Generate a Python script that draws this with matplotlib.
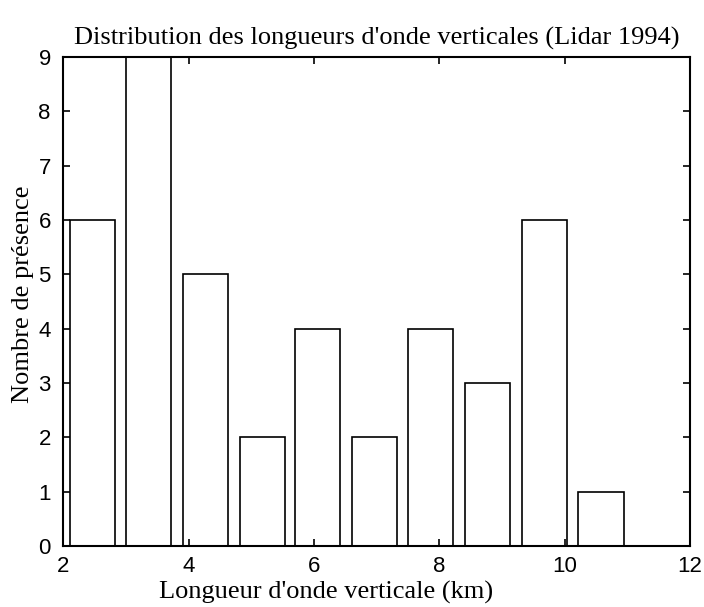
import numpy as np
import matplotlib.pyplot as plt

# histogram of vertical wavelengths, 10 bins (centres in km)
centres = [2.47, 3.36, 4.27, 5.18, 6.06, 6.97, 7.86, 8.77, 9.68, 10.58]
counts = [6, 9, 5, 2, 4, 2, 4, 3, 6, 1]
bin_width = 0.9

xticks = [2, 4, 6, 8, 10, 12]
yticks = list(range(10))

serif = ['Liberation Serif', 'DejaVu Serif']
sans = ['Liberation Sans', 'DejaVu Sans']

fig = plt.figure(figsize=(7.04, 6.07), dpi=100)
ax = fig.add_axes([0.090, 0.1005, 0.890, 0.8055])

ax.bar(centres, counts, width=0.8 * bin_width, color='white',
       edgecolor='black', linewidth=1.2)

ax.set_xlim(2, 12)
ax.set_ylim(0, 9)
ax.set_xticks(xticks)
ax.set_yticks(yticks)
ax.tick_params(direction='in', length=5, width=1.2, top=True, right=True,
               labelsize=16)
ax.tick_params(axis='x', pad=7)
ax.tick_params(axis='y', pad=9)
for lab in ax.get_xticklabels() + ax.get_yticklabels():
    lab.set_family(sans)
for s in ax.spines.values():
    s.set_linewidth(1.5)

ax.set_title("Distribution des longueurs d'onde verticales (Lidar 1994)",
             family=serif, fontsize=19, pad=9)
ax.set_xlabel("Longueur d'onde verticale (km)", family=serif, fontsize=19)
ax.set_ylabel("Nombre de présence", family=serif, fontsize=19)
ax.xaxis.set_label_coords(0.42, -0.094)
ax.yaxis.set_label_coords(-0.065, 0.515)
ax.xaxis.label.set_va('center')
ax.yaxis.label.set_va('center')

fig.savefig('out.png', dpi=100, facecolor='white')
